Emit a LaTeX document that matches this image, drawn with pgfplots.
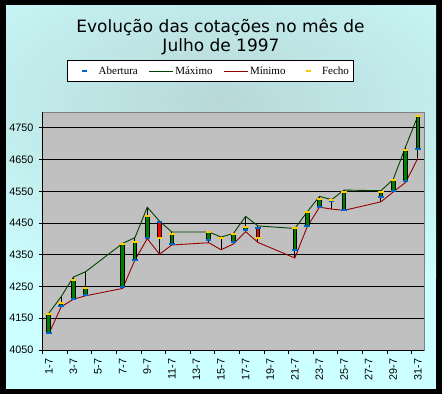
\documentclass[border=0pt]{standalone}
\usepackage{fontspec}
\setmainfont{Liberation Serif}
\newfontfamily\titlefont{DejaVu Sans}
\newfontfamily\tickfont{Liberation Sans}
\usepackage{pgfplots}
\pgfplotsset{compat=1.18}
\usepackage{pgfplotstable}

\definecolor{bgcyan}{RGB}{204,255,255}
\definecolor{bgmid}{RGB}{184,216,216}
\definecolor{plotgray}{RGB}{192,192,192}
\definecolor{hiline}{RGB}{0,64,0}
\definecolor{loline}{RGB}{150,0,0}
\definecolor{bullgreen}{RGB}{0,128,0}
\definecolor{bearred}{RGB}{255,0,0}
\definecolor{openblue}{RGB}{0,102,204}
\definecolor{closeyellow}{RGB}{255,204,0}

\pgfplotstableread{
x open high low close
1 4102 4166 4101 4162
2 4189 4218 4186 4199
3 4211 4280 4210 4271
4 4222 4297 4221 4244
7 4247 4386 4244 4385
8 4335 4404 4334 4391
9 4404 4500 4401 4473
10 4452 4456 4352 4402
11 4383 4422 4381 4414
14 4398 4422 4388 4422
15 4402 4406 4366 4403
16 4391 4417 4384 4414
17 4427 4471 4423 4439
18 4433 4441 4389 4404
21 4364 4433 4340 4433
22 4440 4485 4438 4484
23 4502 4534 4500 4526
24 4518 4524 4494 4522
25 4490 4554 4490 4547
28 4531 4552 4517 4548
29 4550 4588 4548 4585
30 4582 4690 4578 4681
31 4682 4788 4654 4788
}\cotacoes

\begin{document}
\begin{tikzpicture}[x=1pt,y=1pt]
\useasboundingbox (0,0) rectangle (442,394);
\fill[black] (0,0) rectangle (442,394);
\fill[bgcyan] (6,5.3) rectangle (436,388);
\begin{scope}
\clip (6,5.3) rectangle (436,388);
\shade[inner color=bgmid, outer color=bgcyan] (221,292) ellipse [x radius=400, y radius=210];
\end{scope}
\node[font=\titlefont\fontsize{17}{20}\selectfont, anchor=base, inner sep=0pt] at (220.5,361.7) {Evolução das cotações no mês de};
\node[font=\titlefont\fontsize{17}{20}\selectfont, anchor=base, inner sep=0pt] at (221,342.3) {Julho de 1997};

\begin{axis}[
  at={(42.7pt,44pt)}, anchor=south west, scale only axis,
  width=381.3pt, height=238pt,
  xmin=0.5, xmax=31.5, ymin=4050, ymax=4800,
  axis background/.style={fill=plotgray, draw=gray, line width=1pt},
  axis x line*=bottom, axis y line*=left,
  axis line style={-, black, line width=1pt},
  tick align=outside, major tick length=3.5pt,
  tick style={black, line width=1pt},
  ytick={4050,4150,...,4750},
  ymajorgrids, grid style={black, line width=1pt},
  yticklabel style={font=\tickfont\fontsize{10.8}{12}\selectfont, xshift=-2.3pt},
  /pgf/number format/assume math mode=true,
  /pgf/number format/1000 sep={},
  xtick={0.5,2.5,...,30.5}, xticklabels={},
  extra x ticks={1,3,...,31},
  extra x tick labels={1-7,3-7,5-7,7-7,9-7,11-7,13-7,15-7,17-7,19-7,21-7,23-7,25-7,27-7,29-7,31-7},
  extra x tick style={major tick length=0pt, tick label style={yshift=-5pt, rotate=90, anchor=east, font=\tickfont\fontsize{10.8}{12}\selectfont}},
  legend columns=4,
  legend style={at={(axis description cs:0.4409,1.1723)}, anchor=center,
    draw=black, fill=white, line width=1pt, inner xsep=5pt, inner ysep=3pt,
    font=\fontsize{11}{12}\selectfont,
    nodes={inner xsep=0pt, inner ysep=2.5pt},
    /tikz/every odd column/.append style={column sep=2pt},
    /tikz/every even column/.append style={column sep=10.5pt}},
  legend cell align=left,
]
% wicks
\addplot[draw=none, mark=none, forget plot,
  error bars/.cd, y dir=plus, y explicit, error mark=none,
  error bar style={black, line width=1pt}]
  table[x=x, y=low, y error expr=\thisrow{high}-\thisrow{low}] {\cotacoes};
% high / low
\addplot[hiline, line width=0.9pt, mark=none, forget plot] table[x=x, y=high] {\cotacoes};
\addplot[loline, line width=0.9pt, mark=none, forget plot] table[x=x, y=low] {\cotacoes};
% bodies outline
\addplot[draw=none, mark=none, forget plot,
  error bars/.cd, y dir=plus, y explicit, error mark=none,
  error bar style={black, line width=4.7pt}]
  table[x=x, y expr={min(\thisrow{open},\thisrow{close})}, y error expr={abs(\thisrow{close}-\thisrow{open})}] {\cotacoes};
\addplot[draw=none, mark=none, forget plot,
  restrict expr to domain={\thisrow{close}-\thisrow{open}}{0:10000},
  error bars/.cd, y dir=plus, y explicit, error mark=none,
  error bar style={bullgreen, line width=2.7pt}]
  table[x=x, y=open, y error expr={\thisrow{close}-\thisrow{open}}] {\cotacoes};
\addplot[draw=none, mark=none, forget plot,
  restrict expr to domain={\thisrow{close}-\thisrow{open}}{-10000:0},
  error bars/.cd, y dir=plus, y explicit, error mark=none,
  error bar style={bearred, line width=2.7pt}]
  table[x=x, y=close, y error expr={\thisrow{open}-\thisrow{close}}] {\cotacoes};
% open / close marks
\addplot[only marks, mark=-, mark size=2.7pt, openblue, mark options={line width=2pt}, forget plot] table[x=x, y=open] {\cotacoes};
\addplot[only marks, mark=-, mark size=2.7pt, closeyellow, mark options={line width=2pt}, forget plot] table[x=x, y=close] {\cotacoes};

\addlegendimage{legend image code/.code={\path[draw=none] (0pt,0pt) -- (24pt,0pt); \path[draw=openblue, line width=2.5pt] (9.5pt,0pt) -- (14.5pt,0pt);}}
\addlegendentry{Abertura}
\addlegendimage{legend image code/.code={\path[draw=hiline, line width=1pt] (0pt,0pt) -- (24pt,0pt);}}
\addlegendentry{Máximo}
\addlegendimage{legend image code/.code={\path[draw=loline, line width=1pt] (0pt,0pt) -- (24pt,0pt);}}
\addlegendentry{Mínimo}
\addlegendimage{legend image code/.code={\path[draw=none] (0pt,0pt) -- (24pt,0pt); \path[draw=closeyellow, line width=2.5pt] (9.5pt,0pt) -- (14.5pt,0pt);}}
\addlegendentry{Fecho}
\end{axis}
\end{tikzpicture}
\end{document}
